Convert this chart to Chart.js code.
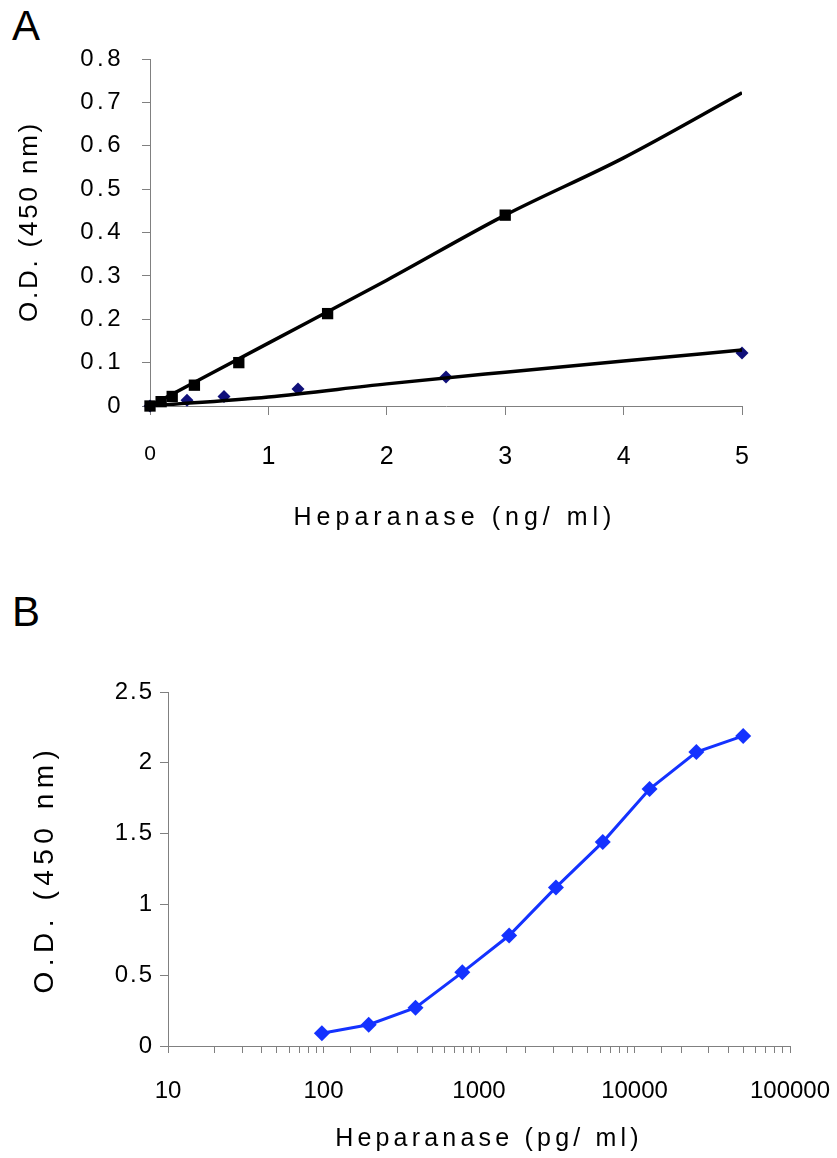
<!DOCTYPE html>
<html>
<head>
<meta charset="utf-8">
<script src="https://cdn.jsdelivr.net/npm/chart.js@4"></script>
<style>
  body { margin: 0; background: #fff; width: 837px; height: 1158px; position: relative; overflow: hidden; }
  .panel { position: absolute; left: 0; width: 837px; }
  .letter { position: absolute; left: 12px; font-family: "Liberation Sans", Arial, sans-serif; font-size: 42px; color: #000; }
</style>
</head>
<body>
<div class="letter" style="top: 2px;">A</div>
<div class="letter" style="top: 588px;">B</div>
<div class="panel" style="top:0; height:560px;"><canvas id="chartA"></canvas></div>
<div class="panel" style="top:600px; height:558px;"><canvas id="chartB"></canvas></div>
<script>
// painel A - heparanase em ng/ml
const dosesQuadrado = [0, 0.094, 0.1875, 0.375, 0.75, 1.5, 3];
const odQuadrado = [0, 0.01, 0.022, 0.048, 0.10, 0.213, 0.44];
const tendQuadradoX = [0, 1, 2, 3, 4, 5];
const tendQuadradoY = [0, 0.145, 0.29, 0.44, 0.572, 0.722];

const dosesLosango = [0, 0.3125, 0.625, 1.25, 2.5, 5];
const odLosango = [0, 0.013, 0.022, 0.039, 0.067, 0.122];
const tendLosangoX = [0, 1, 2, 3, 4, 5];
const tendLosangoY = [0, 0.021, 0.051, 0.078, 0.104, 0.129];

const ticksXA = [0, 1, 2, 3, 4, 5];
const ticksYA = [0, 0.1, 0.2, 0.3, 0.4, 0.5, 0.6, 0.7, 0.8];

// painel B - heparanase em pg/ml (escala log)
const dosesB = [97.66, 195.3, 390.6, 781.25, 1562.5, 3125, 6250, 12500, 25000, 50000];
const odB = [0.09, 0.15, 0.27, 0.52, 0.78, 1.12, 1.44, 1.815, 2.076, 2.19];
const ticksYB = [0, 0.5, 1, 1.5, 2, 2.5];

const fonte = "'Liberation Sans', Arial, sans-serif";
const cinza = '#808080';

// espacamento entre letras e deslocamento do titulo de cada eixo (canvas + eixo)
const espacos = {
    'chartA-x': { titulo: 5, ticks: 0, dx: 9, dy: 0 },
    'chartA-y': { titulo: 2.8, ticks: 3.5, dx: 0, dy: -11 },
    'chartB-x': { titulo: 4.2, ticks: 0, dx: 10, dy: 0 },
    'chartB-y': { titulo: 5.5, ticks: 2, dx: 0, dy: 0 }
};

const comEspaco = (nome, chave) => {
    const original = Chart.Scale.prototype[nome];
    Chart.Scale.prototype[nome] = function () {
        const e = espacos[this.chart.canvas.id + '-' + this.id];
        const ctx = this.ctx;
        ctx.save();
        ctx.letterSpacing = (e ? e[chave] : 0) + 'px';
        if (e && chave === 'titulo') ctx.translate(e.dx, e.dy);
        original.apply(this, arguments);
        ctx.restore();
    };
};
comEspaco('drawTitle', 'titulo');
comEspaco('drawLabels', 'ticks');

// o espaco do ultimo rotulo nao deve encolher a area do grafico
const semSobra = (s) => { s.paddingLeft = 0; s.paddingRight = 0; };

const pares = (xs, ys) => xs.map((x, i) => ({ x: x, y: ys[i] }));

const initChartA = () => {
    const ctx = document.getElementById('chartA');
    const data = {
        datasets: [
            {
                data: pares(tendQuadradoX, tendQuadradoY),
                showLine: true, borderColor: '#000', borderWidth: 3.5,
                pointRadius: 0, cubicInterpolationMode: 'monotone'
            },
            {
                data: pares(tendLosangoX, tendLosangoY),
                showLine: true, borderColor: '#000', borderWidth: 3.5,
                pointRadius: 0, cubicInterpolationMode: 'monotone'
            },
            {
                data: pares(dosesQuadrado, odQuadrado),
                pointStyle: 'rect', pointRadius: 8, clip: false,
                backgroundColor: '#000', borderColor: '#000', borderWidth: 0
            },
            {
                data: pares(dosesLosango, odLosango),
                pointStyle: 'rectRot', pointRadius: 6.5, clip: false,
                backgroundColor: '#10107a', borderColor: '#10107a', borderWidth: 0
            }
        ]
    };
    new Chart(ctx, {
        type: 'scatter',
        data: data,
        options: {
            responsive: true, maintainAspectRatio: false, animation: false,
            layout: { padding: { top: 59, right: 95, left: 0, bottom: 0 } },
            plugins: { legend: { display: false }, tooltip: { enabled: false } },
            scales: {
                x: {
                    type: 'linear', min: 0, max: 5,
                    afterBuildTicks: (s) => { s.ticks = ticksXA.map(v => ({ value: v })); },
                    afterFit: (s) => { s.height = 154; semSobra(s); },
                    border: { color: cinza, width: 1 },
                    grid: { drawOnChartArea: false, tickLength: 9, color: cinza },
                    ticks: { color: '#000', padding: 27,
                        font: (c) => ({ family: fonte, size: c.tick && c.tick.value === 0 ? 21 : 25 }) },
                    title: { display: true, text: 'Heparanase (ng/ ml)', color: '#000',
                        font: { family: fonte, size: 25 }, padding: 27 }
                },
                y: {
                    min: 0, max: 0.8,
                    afterBuildTicks: (s) => { s.ticks = ticksYA.map(v => ({ value: v })); },
                    afterFit: (s) => { s.width = 150; },
                    border: { color: cinza, width: 1 },
                    grid: { drawOnChartArea: false, tickLength: 8, color: cinza },
                    ticks: { color: '#000', padding: 18, font: { family: fonte, size: 24 },
                        callback: (v) => v === 0 ? '0' : v.toFixed(1) },
                    title: { display: true, text: 'O.D. (450 nm)', color: '#000',
                        font: { family: fonte, size: 26 }, padding: 14 }
                }
            }
        }
    });
};

const initChartB = () => {
    const ctx = document.getElementById('chartB');
    new Chart(ctx, {
        type: 'scatter',
        data: {
            datasets: [{
                data: pares(dosesB, odB),
                showLine: true, borderColor: '#1432ff', borderWidth: 3,
                pointStyle: 'rectRot', pointRadius: 8, clip: false,
                backgroundColor: '#1432ff', pointBorderWidth: 0
            }]
        },
        options: {
            responsive: true, maintainAspectRatio: false, animation: false,
            layout: { padding: { top: 92, right: 47, left: 0, bottom: 0 } },
            plugins: { legend: { display: false }, tooltip: { enabled: false } },
            scales: {
                x: {
                    type: 'logarithmic', min: 10, max: 100000,
                    afterFit: (s) => { s.height = 112; semSobra(s); },
                    border: { color: cinza, width: 1 },
                    grid: { drawOnChartArea: false, tickLength: 7, color: cinza },
                    ticks: { color: '#000', padding: 24, autoSkip: false, maxRotation: 0,
                        font: { family: fonte, size: 24 },
                        callback: (v) => {
                            const e = Math.log10(v);
                            return Math.abs(e - Math.round(e)) < 1e-9 ? String(Math.round(v)) : '';
                        } },
                    title: { display: true, text: 'Heparanase (pg/ ml)', color: '#000',
                        font: { family: fonte, size: 25 }, padding: 4 }
                },
                y: {
                    min: 0, max: 2.5,
                    afterBuildTicks: (s) => { s.ticks = ticksYB.map(v => ({ value: v })); },
                    afterFit: (s) => { s.width = 168; },
                    border: { color: cinza, width: 1 },
                    grid: { drawOnChartArea: false, tickLength: 8, color: cinza },
                    ticks: { color: '#000', padding: 6, font: { family: fonte, size: 24 },
                        callback: (v) => String(v) },
                    title: { display: true, text: 'O.D. (450 nm)', color: '#000',
                        font: { family: fonte, size: 28 }, padding: 28 }
                }
            }
        }
    });
};

initChartA();
initChartB();
</script>
</body>
</html>
